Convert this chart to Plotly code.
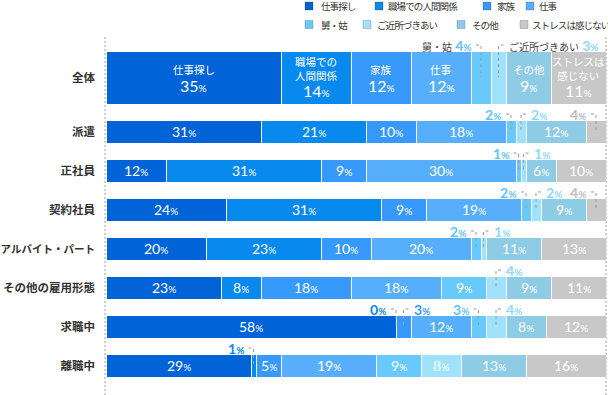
import plotly.graph_objects as go

# ---------------- data ----------------
categories = ["全体", "派遣", "正社員", "契約社員", "アルバイト・パート",
              "その他の雇用形態", "求職中", "離職中"]
series_names = ["仕事探し", "職場での人間関係", "家族", "仕事",
                "舅・姑", "ご近所づきあい", "その他", "ストレスは感じない"]
job_search = [35, 31, 12, 24, 20, 23, 58, 29]
workplace = [14, 21, 31, 31, 23, 8, 0, 1]
family = [12, 10, 9, 9, 10, 18, 3, 5]
work = [12, 18, 30, 19, 20, 18, 12, 19]
in_laws = [4, 2, 1, 2, 2, 9, 3, 9]
neighbors = [3, 2, 1, 2, 1, 4, 4, 8]
other = [9, 12, 6, 9, 11, 9, 8, 13]
no_stress = [11, 4, 10, 4, 13, 11, 12, 16]
total_labels = ["仕事探し", "職場での<br>人間関係", "家族", "仕事",
                "舅・姑", "ご近所づきあい", "その他", "ストレスは<br>感じない"]

series_values = [job_search, workplace, family, work, in_laws, neighbors, other, no_stress]

# ---------------- style ----------------
colors = ["#0064D8", "#0889EE", "#3799FB", "#57AFFC",
          "#68C9FD", "#A0E2FC", "#8ECBE4", "#C8C8C8"]
label_colors = ["#0064D8", "#0889EE", "#3799FB", "#57AFFC",
                "#62C4FA", "#8FD9F8", "#8ECBE4", "#BDBDBD"]
outside_side = {1: "L", 2: "R", 4: "L", 5: "R", 7: "L"}

W, H = 608, 395
X0, X1 = 106, 606          # plot area in pixels
PX = (X1 - X0) / 100.0     # pixels per percent


def px2x(p):
    return (p - X0) / PX


def pxp(p):  # paper x
    return (p - X0) / (X1 - X0)


# row geometry (pixels, y axis is pixel-mapped)
row_center = [77.5] + [131.5 + 39 * i for i in range(len(categories) - 1)]
row_height = [53] + [23] * (len(categories) - 1)

NUMF = "Lato, 'Noto Sans CJK JP', sans-serif"
JPF = "'Noto Sans CJK JP', 'Noto Sans', sans-serif"

fig = go.Figure()
for j, name in enumerate(series_names):
    fig.add_trace(go.Bar(
        name=name, orientation="h",
        y=row_center, x=series_values[j], width=row_height,
        marker=dict(color=colors[j], line=dict(color="white", width=1)),
        hoverinfo="name+x", showlegend=False,
    ))

annotations = []
shapes = []

# dotted frame lines (drawn below everything else)
for p in (105, 606):
    shapes.append(dict(type="line", xref="paper", yref="paper",
                       x0=pxp(p), x1=pxp(p), y0=0, y1=1 - 37 / H,
                       line=dict(color="#cfcfcf", width=2, dash="2px,2px"),
                       layer="below"))

# labels
for i, cat in enumerate(categories):
    cum = 0
    for j in range(len(series_names)):
        v = series_values[j][i]
        c = cum + v / 2.0
        if v >= 5:
            if i == 0:
                nlines = total_labels[j].count("<br>") + 1
                name_y = row_center[i] - 8.5 - 0.5 * (nlines - 1)
                num_y = row_center[i] + 7.5 + 5.5 * (nlines - 1)
                annotations.append(dict(x=c, y=name_y, xref="x", yref="y",
                                        text=total_labels[j], showarrow=False,
                                        font=dict(family=JPF, size=10.5, color="white"),
                                        align="center"))
                annotations.append(dict(x=c, y=num_y, xref="x", yref="y",
                                        text=f"{v}<span style='font-size:10px'>%</span>",
                                        showarrow=False,
                                        font=dict(family=NUMF, size=16, color="white")))
            else:
                txt = f"{v}<span style='font-size:10px'>%</span>"
                annotations.append(dict(x=c, y=row_center[i], xref="x", yref="y",
                                        text=txt, showarrow=False,
                                        font=dict(family=NUMF, size=14, color="white")))
        else:
            side = outside_side.get(j, "L")
            top = row_center[i] - row_height[i] / 2.0
            ly = top - 6
            num = (f"<span style='font-family:Lato;color:{label_colors[j]}'><b>{v}</b>"
                   f"<span style='font-size:10px'><b>%</b></span></span>")
            if i == 0:
                txt = (f"<span style='color:#444;font-size:10px'>{total_labels[j]}</span> "
                       + num)
            else:
                txt = num
            sgn = -1 if side == "L" else 1
            annotations.append(dict(x=c + sgn * 8 / PX, y=ly, xref="x", yref="y",
                                    xanchor="right" if side == "L" else "left",
                                    yanchor="middle", text=txt, showarrow=False,
                                    font=dict(family=JPF, size=14)))
            shapes.append(dict(type="path", xref="x", yref="y",
                               path=f"M {c + sgn * 5 / PX} {ly} L {c} {ly} L {c} {row_center[i]}",
                               line=dict(color="#9a9a9a", width=1, dash="dot")))
        cum += v

# custom legend
leg_sq = [(305, 6), (375, 6), (483, 6), (526, 6),
          (305, 24.5), (363, 24.5), (457, 24.5), (520, 24.5)]
leg_tx = [319, 386, 495, 537, 319, 375, 470, 530]
for j, name in enumerate(series_names):
    sx, sy = leg_sq[j]
    shapes.append(dict(type="rect", xref="x", yref="y",
                       x0=px2x(sx), x1=px2x(sx + 8), y0=sy - 4, y1=sy + 4,
                       fillcolor=colors[j], line=dict(color="rgba(0,0,0,0.18)", width=1)))
    annotations.append(dict(x=px2x(leg_tx[j]), y=sy, xref="x", yref="y",
                            xanchor="left", yanchor="middle",
                            text=f"<span style='letter-spacing:-0.9px'>{name}</span>",
                            showarrow=False,
                            font=dict(family=JPF, size=9.5, color="#333")))

ticktext = []
for c in categories:
    if len(c) > 8:
        ticktext.append(f"<b><span style='font-size:10.5px'>{c}</span></b>")
    else:
        ticktext.append(f"<b>{c}</b>")

fig.update_layout(
    width=W, height=H, barmode="stack",
    margin=dict(l=X0, r=W - X1, t=0, b=0),
    paper_bgcolor="white", plot_bgcolor="rgba(0,0,0,0)",
    xaxis=dict(range=[0, 100], visible=False, fixedrange=True),
    yaxis=dict(range=[H, 0], showgrid=False, zeroline=False, showline=False,
               tickvals=row_center, ticktext=ticktext, fixedrange=True,
               ticks="", ticklabelstandoff=10, automargin=False,
               tickfont=dict(family=JPF, size=11.5, color="#333")),
    annotations=annotations, shapes=shapes, showlegend=False,
)

fig.write_html("out.html", config={"displayModeBar": False},
               post_script="document.body.style.margin='0';document.body.style.padding='0';")
